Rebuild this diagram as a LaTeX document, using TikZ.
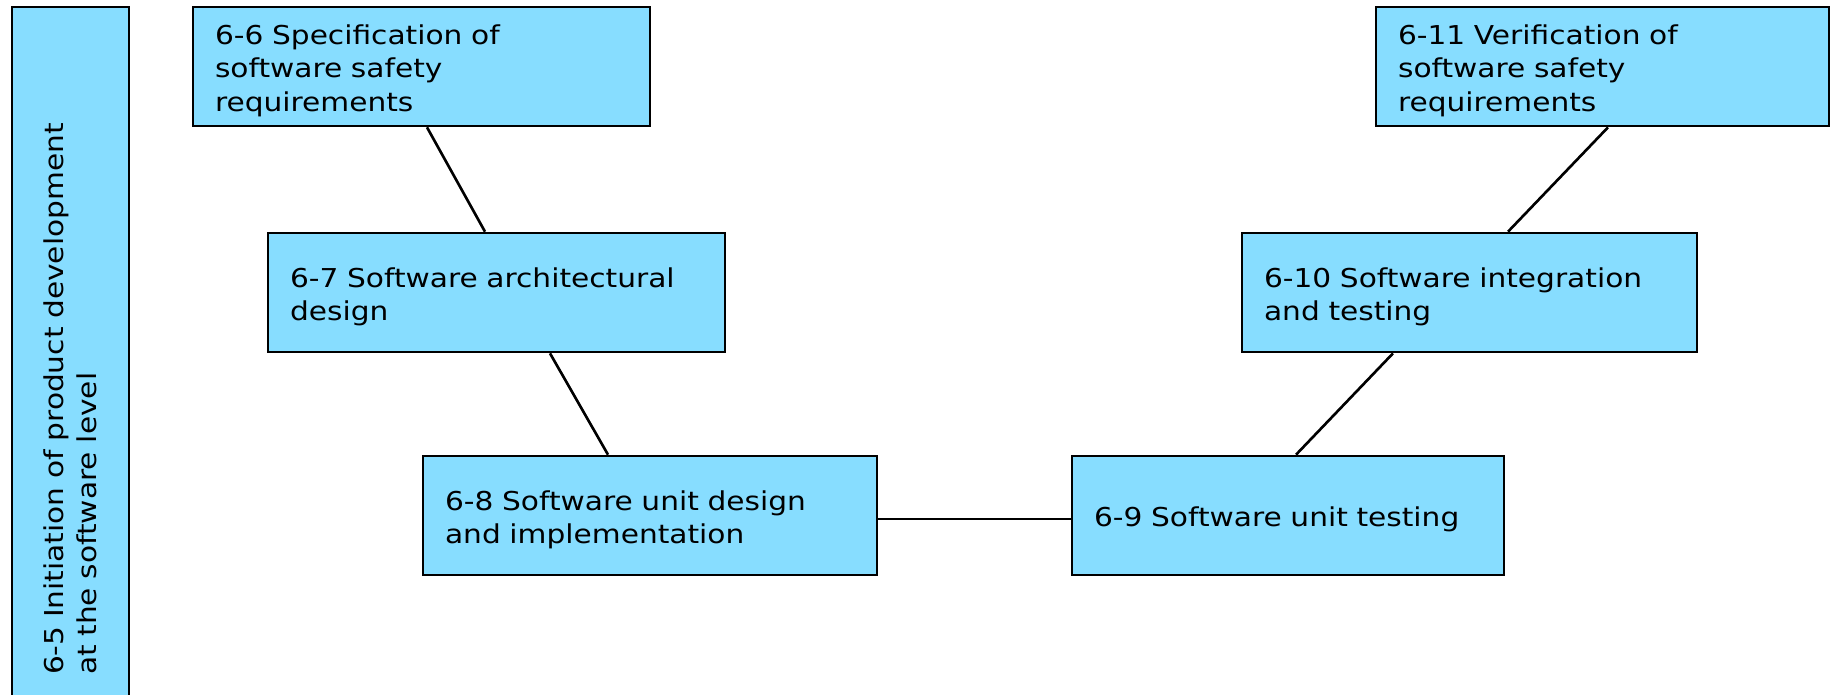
\documentclass[tikz,border=0pt]{standalone}
\usepackage{fontspec}
\setsansfont{DejaVu Sans}[FakeStretch=1.14]
\usetikzlibrary{calc}

\definecolor{stageblue}{RGB}{135,221,255}

\tikzset{
  stage/.style={draw, line width=1.5pt, fill=stageblue, align=left, inner xsep=0.44cm,
    minimum height=2.38cm, font=\sffamily\fontsize{14.8pt}{18.9pt}\selectfont},
  phase/.style={stage, text height=0.56cm},
  link/.style={line width=1.5pt}
}

\begin{document}
\begin{tikzpicture}[x=0.02cm, y=-0.02cm]
    \useasboundingbox (0,0) rectangle (1831,694);

    \node[stage, rotate=90, text width=12.86cm, inner xsep=0.5cm, minimum height=2.34cm] (n65) at (70.5,353.5)
        {6-5 Initiation of product development\\at the software level};

    \node[phase, text width=8.26cm] (n66) at (421.5,66.5) {6-6 Specification of\\software safety\\requirements};
    \node[phase, text width=8.26cm] (n67) at (496.5,292.5) {6-7 Software architectural\\design};
    \node[phase, text width=8.20cm] (n68) at (650,515.5) {6-8 Software unit design\\and implementation};
    \node[phase, text width=7.76cm] (n69) at (1288,515.5) {6-9 Software unit testing};
    \node[phase, text width=8.22cm] (n610) at (1469.5,292.5) {6-10 Software integration\\and testing};
    \node[phase, text width=8.18cm] (n611) at (1602.5,66.5) {6-11 Verification of\\software safety\\requirements};

    \draw[link] ($(n66.south)+(5.5,0)$) -- ($(n67.north)+(-11.5,0)$);
    \draw[link] ($(n67.south)+(53.5,0)$) -- ($(n68.north)+(-42,0)$);
    \draw[link] ($(n68.east)+(0,3.5)$) -- ($(n69.west)+(0,3.5)$);
    \draw[link] ($(n69.north)+(8,0)$) -- ($(n610.south)+(-76.5,0)$);
    \draw[link] ($(n610.north)+(38.5,0)$) -- ($(n611.south)+(5.5,0)$);
\end{tikzpicture}
\end{document}
